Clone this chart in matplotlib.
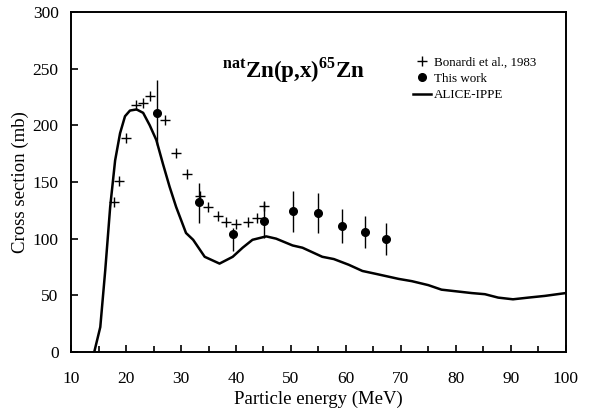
import numpy as np
import matplotlib.pyplot as plt

plt.rcParams['font.family'] = 'Liberation Serif'
plt.rcParams['mathtext.fontset'] = 'custom'
plt.rcParams['mathtext.rm'] = 'Liberation Serif'
plt.rcParams['mathtext.bf'] = 'Liberation Serif:bold'

# Bonardi et al., 1983
bon_e = [17.8, 18.7, 20.0, 21.8, 23.1, 24.3, 27.0, 29.0, 31.1, 33.5, 34.9, 36.7,
         38.2, 40.0, 42.2, 43.8, 45.1]
bon_xs = [132, 151, 189, 218, 220, 226, 205, 176, 157, 138, 128, 120,
          115, 113, 115, 118, 129]

# This work
tw_e = [25.6, 33.2, 39.5, 45.1, 50.3, 54.9, 59.3, 63.4, 67.3]
tw_xs = [211, 132, 104, 116, 124, 123, 111, 106, 100]
tw_lo = [28, 18, 15, 15, 18, 18, 15, 14, 14]
tw_hi = [29, 17, 5, 16, 18, 17, 15, 14, 14]

# ALICE-IPPE calculation
alice_e = [14.2, 15.3, 16.2, 17.1, 18.0, 18.9, 19.8, 20.7, 21.9, 23.1, 24.3, 25.5,
           26.7, 27.9, 29.1, 30.9, 32.2, 34.3, 37.0, 39.4, 41.2, 43.0, 45.5, 47.3,
           50.3, 52.1, 55.7, 57.8, 60.5, 63.0, 65.4, 69.6, 72.0, 75.0, 77.4, 82.9,
           85.3, 87.7, 90.4, 93.2, 96.2, 100.0]
alice_xs = [0, 22, 72, 128, 169, 193, 208, 213, 214, 211, 200, 187,
            166, 146, 128, 105, 99, 84, 78, 84, 92, 99, 102, 100,
            94, 92, 84, 82, 77, 71.5, 69, 64.5, 62.5, 59, 55, 52,
            51, 48, 46.5, 48, 49.5, 52]

fig = plt.figure(figsize=(5.93, 4.12), dpi=100)
ax = fig.add_axes([0.12, 0.1456, 0.834, 0.8254])

ax.plot(bon_e, bon_xs, linestyle='none', marker='+', color='black',
        markersize=7, markeredgewidth=1.0, label='Bonardi et al., 1983')
ax.errorbar(tw_e, tw_xs, yerr=[tw_lo, tw_hi], fmt='none', ecolor='black',
            elinewidth=1.0, capsize=0)
ax.plot(tw_e, tw_xs, linestyle='none', marker='o', color='black',
        markersize=5.5, label='This work')
ax.plot(alice_e, alice_xs, color='black', linewidth=1.8, label='ALICE-IPPE')

ax.set_xlim(10, 100)
ax.set_ylim(0, 300)
ax.set_xticks(np.arange(10, 101, 10))
ax.set_xticks(np.arange(15, 100, 10), minor=True)
ax.set_yticks(np.arange(0, 301, 50))
ax.tick_params(axis='both', direction='in', labelsize=12.5, length=5, width=1.2)
ax.tick_params(axis='x', which='minor', direction='in', length=4, width=1.2)
ax.tick_params(axis='x', pad=14)
ax.tick_params(axis='y', pad=9)
for s in ax.spines.values():
    s.set_linewidth(1.4)

ax.set_xlabel('Particle energy (MeV)', fontsize=13.5)
ax.set_ylabel('Cross section (mb)', fontsize=13.5)
ax.xaxis.set_label_coords(0.5, -0.115)
ax.yaxis.set_label_coords(-0.085, 0.5)

ax.text(0.45, 0.83, r'$^{\mathbf{nat}}$Zn(p,x)$^{\mathbf{65}}$Zn',
        transform=ax.transAxes, ha='center', va='center',
        fontsize=16.5, fontweight='bold')

ax.legend(loc='upper left', bbox_to_anchor=(0.691, 0.868), frameon=False,
          fontsize=9.4, handlelength=1.4, handletextpad=0.2, labelspacing=0.3,
          borderpad=0, borderaxespad=0)

fig.savefig('out.png', dpi=100)
